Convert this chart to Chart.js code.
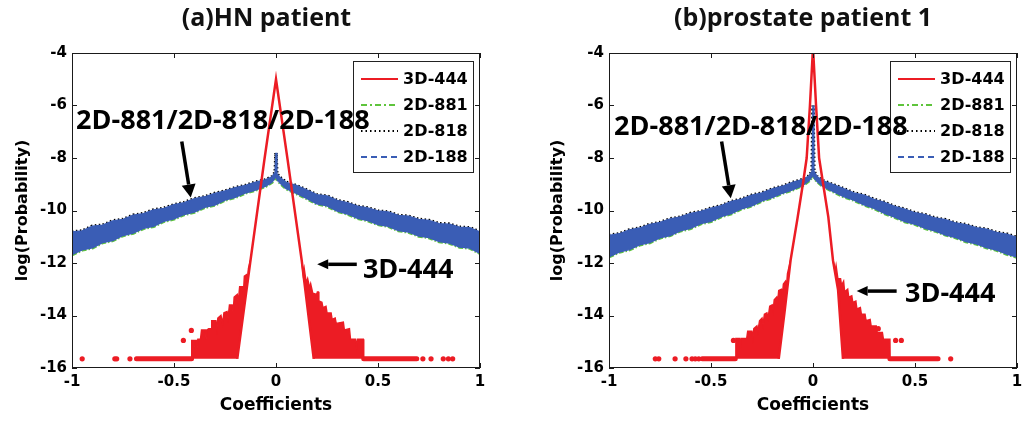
<!DOCTYPE html>
<html>
<head>
<meta charset="utf-8">
<script src="https://cdn.jsdelivr.net/npm/chart.js@4.4.1/dist/chart.umd.min.js"></script>
<style>
html, body { margin: 0; padding: 0; background: #fff; overflow: hidden; width: 1023px; height: 422px; }
.panel { position: absolute; top: 0; height: 422px; }
#wrapA { left: 0; width: 533px; }
#wrapB { left: 537px; width: 532px; }
</style>
</head>
<body>
<div class="panel" id="wrapA"><canvas id="chartA"></canvas></div>
<div class="panel" id="wrapB"><canvas id="chartB"></canvas></div>
<script>
// axis ticks
const X_TICKS = [-1, -0.5, 0, 0.5, 1];
const Y_TICKS = [-16, -14, -12, -10, -8, -6, -4];

const LEGEND_LABELS = ['3D-444', '2D-881', '2D-818', '2D-188'];
const FLOOR = -15.65;

// x grid shared by the 2D bands
const BAND_X = [-1, -0.95, -0.9, -0.85, -0.8, -0.75, -0.7, -0.65, -0.6, -0.55, -0.5, -0.45, -0.4, -0.35, -0.3, -0.25, -0.2, -0.15, -0.1, -0.05,
    -0.02, -0.004, 0, 0.004, 0.02,
    0.05, 0.1, 0.15, 0.2, 0.25, 0.3, 0.35, 0.4, 0.45, 0.5, 0.55, 0.6, 0.65, 0.7, 0.75, 0.8, 0.85, 0.9, 0.95, 1];

// ---- (a) HN patient ----
const A_BLUE_UPPER = [-10.82, -10.78, -10.60, -10.56, -10.40, -10.34, -10.18, -10.12, -9.98, -9.92, -9.78, -9.70, -9.55, -9.48, -9.35, -9.26, -9.13, -9.05, -8.92, -8.83,
    -8.72, -8.55, -7.8, -8.6, -8.75,
    -8.93, -9.05, -9.22, -9.40, -9.45, -9.62, -9.70, -9.84, -9.90, -10.02, -10.06, -10.19, -10.22, -10.34, -10.38, -10.50, -10.52, -10.64, -10.66, -10.82];
const A_BLUE_LOWER = [-11.68, -11.50, -11.42, -11.22, -11.14, -10.95, -10.86, -10.68, -10.60, -10.41, -10.32, -10.15, -10.06, -9.88, -9.79, -9.60, -9.50, -9.33, -9.22, -9.07,
    -8.92, -8.75, -8.7, -8.78, -8.95,
    -9.17, -9.35, -9.54, -9.74, -9.82, -10.02, -10.13, -10.30, -10.38, -10.53, -10.60, -10.76, -10.82, -10.97, -11.03, -11.18, -11.24, -11.39, -11.43, -11.63];

const A_PEAK_X = [-0.19, -0.125, -0.057, 0, 0.057, 0.126, 0.185];
const A_PEAK_Y = [-15.65, -11.9, -8.07, -5.0, -8.07, -11.9, -15.65];
const A_LTAIL_X = [-0.415, -0.413, -0.405, -0.403, -0.398, -0.39, -0.388, -0.383, -0.37, -0.365, -0.345, -0.343, -0.338, -0.33, -0.318, -0.315, -0.295, -0.29, -0.285,
    -0.27, -0.262, -0.255, -0.24, -0.235, -0.228, -0.215, -0.21, -0.205, -0.19, -0.185, -0.178, -0.165, -0.16, -0.155, -0.145, -0.14, -0.135, -0.125];
const A_LTAIL_Y = [-15.65, -14.95, -14.95, -15.3, -14.95, -14.95, -15.3, -14.9, -14.9, -14.55, -14.55, -14.9, -14.55, -14.5, -14.5, -14.2, -14.2, -14.5, -14.1,
    -14.0, -14.3, -13.9, -13.85, -14.1, -13.6, -13.6, -13.9, -13.3, -13.2, -13.5, -12.9, -12.9, -13.2, -12.5, -12.45, -12.7, -12.2, -11.9];
const A_LBASE_X = [-0.415, -0.19, -0.125];
const A_LBASE_Y = [-15.65, -15.65, -11.9];
const A_RTAIL_X = [0.126, 0.133, 0.138, 0.148, 0.155, 0.165, 0.17, 0.18, 0.2, 0.203, 0.208, 0.21, 0.225, 0.23, 0.245, 0.25, 0.27, 0.275, 0.29, 0.295,
    0.33, 0.335, 0.36, 0.365, 0.39, 0.395, 0.4, 0.428, 0.43];
const A_RTAIL_Y = [-11.9, -12.4, -12.2, -12.75, -12.6, -12.95, -12.8, -13.15, -13.2, -13.1, -13.1, -13.45, -13.5, -13.7, -13.65, -13.9, -13.9, -14.15, -14.1, -14.3,
    -14.25, -14.55, -14.5, -14.9, -14.9, -15.2, -14.9, -14.9, -15.65];
const A_RBASE_X = [0.126, 0.185, 0.43];
const A_RBASE_Y = [-11.9, -15.65, -15.65];
const A_STRIP_L = [-0.684, -0.414];
const A_STRIP_R = [0.43, 0.69];
const A_DOT_X = [-0.95, -0.79, -0.781, -0.716, -0.454, -0.415, 0.72, 0.76, 0.82, 0.845, 0.866];
const A_DOT_Y = [-15.65, -15.65, -15.65, -15.65, -14.95, -14.57, -15.65, -15.65, -15.65, -15.65, -15.65];

// ---- (b) prostate patient 1 ----
const B_BLUE_UPPER = [-10.95, -10.89, -10.74, -10.67, -10.53, -10.46, -10.32, -10.25, -10.11, -10.04, -9.91, -9.82, -9.66, -9.57, -9.42, -9.33, -9.18, -9.08, -8.93, -8.82,
    -8.69, -8.5, -6.0, -8.5, -8.71,
    -8.87, -9.02, -9.17, -9.33, -9.42, -9.58, -9.69, -9.85, -9.95, -10.09, -10.16, -10.29, -10.35, -10.48, -10.54, -10.66, -10.71, -10.84, -10.90, -11.03];
const B_BLUE_LOWER = [-11.76, -11.58, -11.49, -11.31, -11.22, -11.04, -10.95, -10.77, -10.68, -10.50, -10.41, -10.23, -10.12, -9.93, -9.82, -9.63, -9.51, -9.34, -9.21, -9.04,
    -8.87, -8.7, -8.65, -8.72, -8.89,
    -9.09, -9.28, -9.47, -9.60, -9.78, -9.92, -10.11, -10.25, -10.42, -10.52, -10.68, -10.78, -10.93, -11.03, -11.18, -11.27, -11.41, -11.51, -11.66, -11.77];

const B_PEAK_X = [-0.168, -0.14, -0.11, -0.076, -0.049, -0.031, -0.015, 0, 0.015, 0.03, 0.049, 0.075, 0.098, 0.123, 0.147];
const B_PEAK_Y = [-15.65, -13.9, -11.9, -10.3, -8.96, -8.0, -6.0, -3.8, -6.0, -8.0, -8.95, -10.24, -11.9, -13.03, -15.65];
const B_LTAIL_X = [-0.381, -0.378, -0.36, -0.357, -0.352, -0.325, -0.32, -0.3, -0.295, -0.29, -0.275, -0.27, -0.262, -0.25, -0.245, -0.238, -0.226, -0.22,
    -0.212, -0.2, -0.195, -0.19, -0.178, -0.173, -0.168, -0.155, -0.15, -0.145, -0.135, -0.13, -0.125, -0.11];
const B_LTAIL_Y = [-15.65, -14.88, -14.88, -15.3, -14.88, -14.88, -14.6, -14.6, -14.85, -14.5, -14.4, -14.6, -14.2, -14.1, -14.35, -13.95, -13.9, -14.1,
    -13.65, -13.6, -13.8, -13.4, -13.3, -13.5, -13.05, -13.0, -13.2, -12.8, -12.7, -12.9, -12.4, -11.9];
const B_LBASE_X = [-0.381, -0.168, -0.14, -0.11];
const B_LBASE_Y = [-15.65, -15.65, -13.9, -11.9];
const B_RTAIL_X = [0.098, 0.108, 0.113, 0.122, 0.135, 0.14, 0.15, 0.155, 0.17, 0.175, 0.19, 0.195, 0.21, 0.215, 0.232, 0.237, 0.255, 0.26, 0.28, 0.285,
    0.31, 0.315, 0.34, 0.345, 0.377, 0.378];
const B_RTAIL_Y = [-11.9, -12.3, -12.1, -12.6, -12.6, -12.85, -12.7, -13.1, -13.0, -13.3, -13.25, -13.5, -13.45, -13.75, -13.7, -13.95, -13.95, -14.2, -14.15, -14.4,
    -14.4, -14.65, -14.65, -14.9, -14.9, -15.65];
const B_RBASE_X = [0.098, 0.123, 0.147, 0.378];
const B_RBASE_Y = [-11.9, -13.03, -15.65, -15.65];
const B_STRIP_L = [-0.543, -0.381];
const B_STRIP_R = [0.377, 0.613];
const B_DOT_X = [-0.773, -0.756, -0.676, -0.623, -0.593, -0.577, -0.56, -0.39, 0.32, 0.405, 0.433, 0.675];
const B_DOT_Y = [-15.65, -15.65, -15.65, -15.65, -15.65, -15.65, -15.65, -14.95, -14.5, -14.95, -14.95, -15.65];

const RED = '#ec1c24';
const GREEN = '#5ec43c';
const BLACK = '#000000';
const BLUE = '#3a5db5';

const pts = (xs, ys) => xs.map((x, i) => ({x: x, y: ys[i]}));

// legend samples, same order as LEGEND_LABELS
const LEGEND_STYLE = [
    {color: RED, dash: []},
    {color: GREEN, dash: [6, 3, 2, 3]},
    {color: BLACK, dash: [1.5, 3]},
    {color: BLUE, dash: [6, 4]}
];

// frame, inward ticks, legend box and the text/arrow notes
const matlabDecor = {
    id: 'matlabDecor',
    afterDatasetsDraw(chart, args, opts) {
        const {ctx, chartArea: a} = chart;
        const sx = chart.scales.x, sy = chart.scales.y;
        ctx.save();

        ctx.strokeStyle = '#1a1a1a';
        ctx.lineWidth = 1;
        ctx.setLineDash([]);
        ctx.strokeRect(a.left + 0.5, a.top + 0.5, a.width - 1, a.height - 1);
        ctx.beginPath();
        X_TICKS.forEach(v => {
            const px = Math.round(sx.getPixelForValue(v)) + 0.5;
            ctx.moveTo(px, a.bottom); ctx.lineTo(px, a.bottom - 5);
            ctx.moveTo(px, a.top); ctx.lineTo(px, a.top + 5);
        });
        Y_TICKS.forEach(v => {
            const py = Math.round(sy.getPixelForValue(v)) + 0.5;
            ctx.moveTo(a.left, py); ctx.lineTo(a.left + 5, py);
            ctx.moveTo(a.right, py); ctx.lineTo(a.right - 5, py);
        });
        ctx.stroke();

        // legend
        const bw = 121, bh = 112;
        const bx = a.right - 6 - bw, by = a.top + 8;
        ctx.fillStyle = '#fff';
        ctx.fillRect(bx, by, bw, bh);
        ctx.strokeStyle = '#222';
        ctx.strokeRect(bx + 0.5, by + 0.5, bw - 1, bh - 1);
        ctx.font = 'bold 16px "DejaVu Sans"';
        ctx.textBaseline = 'middle';
        ctx.textAlign = 'left';
        LEGEND_LABELS.forEach((lab, i) => {
            const ry = by + 18 + i * 26;
            const st = LEGEND_STYLE[i];
            ctx.strokeStyle = st.color;
            ctx.lineWidth = 2;
            ctx.setLineDash(st.dash);
            ctx.beginPath();
            ctx.moveTo(bx + 8, ry); ctx.lineTo(bx + 45, ry);
            ctx.stroke();
            ctx.setLineDash([]);
            ctx.fillStyle = '#000';
            ctx.fillText(lab, bx + 50, ry + 1);
        });

        // notes
        ctx.fillStyle = '#000';
        ctx.font = 'bold 27px "Open Sans"';
        ctx.textBaseline = 'alphabetic';
        (opts.notes || []).forEach(n => {
            ctx.fillText(n.text, sx.getPixelForValue(n.x), sy.getPixelForValue(n.y));
        });
        (opts.arrows || []).forEach(ar => {
            const x1 = sx.getPixelForValue(ar.x1), y1 = sy.getPixelForValue(ar.y1);
            const x2 = sx.getPixelForValue(ar.x2), y2 = sy.getPixelForValue(ar.y2);
            const ang = Math.atan2(y2 - y1, x2 - x1);
            const hl = ar.head || 12, hw = ar.half || 6;
            const bxp = x2 - hl * Math.cos(ang), byp = y2 - hl * Math.sin(ang);
            ctx.strokeStyle = '#000';
            ctx.lineWidth = 3.5;
            ctx.beginPath();
            ctx.moveTo(x1, y1); ctx.lineTo(bxp, byp);
            ctx.stroke();
            ctx.beginPath();
            ctx.moveTo(x2, y2);
            ctx.lineTo(bxp + hw * Math.sin(ang), byp - hw * Math.cos(ang));
            ctx.lineTo(bxp - hw * Math.sin(ang), byp + hw * Math.cos(ang));
            ctx.closePath();
            ctx.fill();
        });
        ctx.restore();
    }
};

function makeDatasets(d) {
    const line = (data, extra) => Object.assign({
        data: data, pointRadius: 0, borderWidth: 2, tension: 0, fill: false
    }, extra);
    return [
        line(pts(d.peakX, d.peakY), {label: LEGEND_LABELS[0], borderColor: RED, borderWidth: 2.5}),
        line([{x: d.stripL[0], y: FLOOR}, {x: d.stripL[1], y: FLOOR}, {x: 0, y: null},
              {x: d.stripR[0], y: FLOOR}, {x: d.stripR[1], y: FLOOR}],
             {borderColor: RED, borderWidth: 5, borderCapStyle: 'round'}),
        line(pts(d.dotX, d.dotY), {showLine: false, pointRadius: 2.6, pointBorderWidth: 0, pointBackgroundColor: RED}),
        line(pts(d.ltailX, d.ltailY), {borderColor: RED, borderWidth: 1.5, backgroundColor: RED, fill: '+1'}),
        line(pts(d.lbaseX, d.lbaseY), {borderColor: 'rgba(0,0,0,0)', borderWidth: 0}),
        line(pts(d.rtailX, d.rtailY), {borderColor: RED, borderWidth: 1.5, backgroundColor: RED, fill: '+1'}),
        line(pts(d.rbaseX, d.rbaseY), {borderColor: 'rgba(0,0,0,0)', borderWidth: 0}),
        line(pts(BAND_X, d.blueUpper), {label: LEGEND_LABELS[3], borderColor: BLUE, borderWidth: 1.5, backgroundColor: BLUE, fill: '+1'}),
        line(pts(BAND_X, d.blueLower), {borderColor: BLUE, borderWidth: 1.5}),
        line(pts(BAND_X, d.blueUpper), {label: LEGEND_LABELS[2], borderColor: BLACK, borderWidth: 3.5, borderDash: [1.5, 2.5]}),
        line(pts(BAND_X, d.blueLower), {label: LEGEND_LABELS[1], borderColor: GREEN, borderWidth: 3.5, borderDash: [5, 2, 1.5, 2]})
    ];
}

function buildChart(id, d) {
    const tickFont = {family: '"DejaVu Sans"', size: 15, weight: 'bold'};
    return new Chart(document.getElementById(id), {
        type: 'line',
        data: {datasets: makeDatasets(d)},
        options: {
            responsive: true,
            maintainAspectRatio: false,
            animation: false,
            events: [],
            layout: {padding: 0},
            scales: {
                x: {
                    type: 'linear', min: -1, max: 1,
                    afterBuildTicks: s => { s.ticks = X_TICKS.map(v => ({value: v})); },
                    afterFit: s => { s.height = 54; },
                    grid: {display: false, drawTicks: false},
                    border: {display: false},
                    ticks: {font: tickFont, color: '#000', padding: 5, maxRotation: 0, callback: v => String(v)},
                    title: {display: true, text: 'Coefficients', color: '#000',
                        font: {family: '"DejaVu Sans"', size: 17, weight: 'bold'}, padding: {top: 0, bottom: 6}}
                },
                y: {
                    min: -16, max: -4,
                    afterBuildTicks: s => { s.ticks = Y_TICKS.map(v => ({value: v})); },
                    afterFit: s => { s.width = 72; },
                    grid: {display: false, drawTicks: false},
                    border: {display: false},
                    ticks: {font: tickFont, color: '#000', padding: 5, callback: v => String(v)},
                    title: {display: true, text: 'log(Probability)', color: '#000',
                        font: {family: '"DejaVu Sans"', size: 16, weight: 'bold'}, padding: {top: d.yTitlePad, bottom: 0}}
                },
                // empty right-hand strip so the title centres where the original does
                yPad: {
                    position: 'right', min: 0, max: 1,
                    ticks: {display: false},
                    grid: {display: false, drawTicks: false},
                    border: {display: false},
                    afterFit: s => { s.width = d.padRight; }
                }
            },
            plugins: {
                legend: {display: false},
                tooltip: {enabled: false},
                title: {display: true, text: d.title, color: '#111',
                    font: {family: '"Open Sans"', size: 25, weight: 'bold'}, padding: {top: 4, bottom: 19}},
                matlabDecor: {notes: d.notes, arrows: d.arrows}
            }
        },
        plugins: [matlabDecor]
    });
}

buildChart('chartA', {
    title: '(a)HN patient', padRight: 53, yTitlePad: 13,
    peakX: A_PEAK_X, peakY: A_PEAK_Y,
    ltailX: A_LTAIL_X, ltailY: A_LTAIL_Y, lbaseX: A_LBASE_X, lbaseY: A_LBASE_Y,
    rtailX: A_RTAIL_X, rtailY: A_RTAIL_Y, rbaseX: A_RBASE_X, rbaseY: A_RBASE_Y,
    stripL: A_STRIP_L, stripR: A_STRIP_R, dotX: A_DOT_X, dotY: A_DOT_Y,
    blueUpper: A_BLUE_UPPER, blueLower: A_BLUE_LOWER,
    notes: [{text: '2D-881/2D-818/2D-188', x: -0.98, y: -6.9}, {text: '3D-444', x: 0.426, y: -12.58}],
    arrows: [{x1: -0.462, y1: -7.37, x2: -0.418, y2: -9.5, head: 13, half: 7},
             {x1: 0.396, y1: -12.05, x2: 0.202, y2: -12.05, head: 11, half: 5}]
});

buildChart('chartB', {
    title: '(b)prostate patient 1', padRight: 52, yTitlePad: 11,
    peakX: B_PEAK_X, peakY: B_PEAK_Y,
    ltailX: B_LTAIL_X, ltailY: B_LTAIL_Y, lbaseX: B_LBASE_X, lbaseY: B_LBASE_Y,
    rtailX: B_RTAIL_X, rtailY: B_RTAIL_Y, rbaseX: B_RBASE_X, rbaseY: B_RBASE_Y,
    stripL: B_STRIP_L, stripR: B_STRIP_R, dotX: B_DOT_X, dotY: B_DOT_Y,
    blueUpper: B_BLUE_UPPER, blueLower: B_BLUE_LOWER,
    notes: [{text: '2D-881/2D-818/2D-188', x: -0.975, y: -7.12}, {text: '3D-444', x: 0.451, y: -13.48}],
    arrows: [{x1: -0.448, y1: -7.37, x2: -0.403, y2: -9.53, head: 13, half: 7},
             {x1: 0.41, y1: -13.07, x2: 0.214, y2: -13.07, head: 11, half: 5}]
});
</script>
</body>
</html>
